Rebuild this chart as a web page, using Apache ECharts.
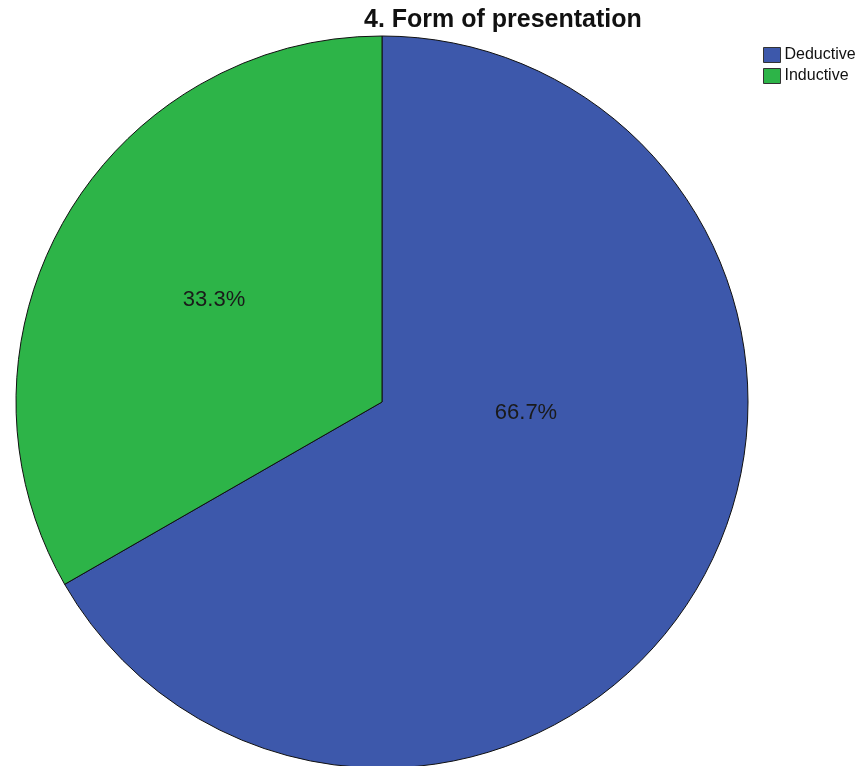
<!DOCTYPE html>
<html>
<head>
<meta charset="utf-8">
<script src="https://cdn.jsdelivr.net/npm/echarts@6/dist/echarts.min.js"></script>
<style>html,body{margin:0;padding:0;background:#fff;}#c{width:859px;height:766px;}</style>
</head>
<body>
<div id="c"></div>
<script>
const categories = ['Deductive', 'Inductive'];
const values = [66.7, 33.3];
const colors = ['#3D58AB', '#2DB448'];
const titleText = '4. Form of presentation';

const chart = echarts.init(document.getElementById('c'), null, {renderer: 'canvas'});
chart.setOption({
  animation: false,
  backgroundColor: '#ffffff',
  title: {
    text: titleText,
    left: 364, top: 8, padding: 0,
    textStyle: {fontFamily: 'Liberation Sans, Arial', fontWeight: 'bold', fontSize: 25, color: '#111'}
  },
  legend: {
    orient: 'vertical', left: 758, top: 42,
    itemWidth: 17, itemHeight: 15, itemGap: 5,
    icon: 'rect',
    textStyle: {fontFamily: 'Liberation Sans, Arial', fontSize: 16, color: '#111', padding: [0,0,0,-1]},
    itemStyle: {borderColor: '#333', borderWidth: 1},
    data: categories
  },
  series: [{
    type: 'pie',
    center: [382, 402],
    radius: 366,
    startAngle: 90,
    clockwise: true,
    itemStyle: {borderColor: '#111', borderWidth: 1},
    label: {
      show: true, position: 'inside',
      formatter: p => p.value.toFixed(1) + '%',
      fontFamily: 'Liberation Sans, Arial', fontSize: 22, color: '#1a1a1a'
    },
    labelLayout: function (p) {
      return p.dataIndex === 0 ? {dx: -17, dy: -82} : {dx: -7, dy: -9};
    },
    emphasis: {disabled: true},
    data: categories.map((c, i) => ({name: c, value: values[i], itemStyle: {color: colors[i]}}))
  }]
});
</script>
</body>
</html>
